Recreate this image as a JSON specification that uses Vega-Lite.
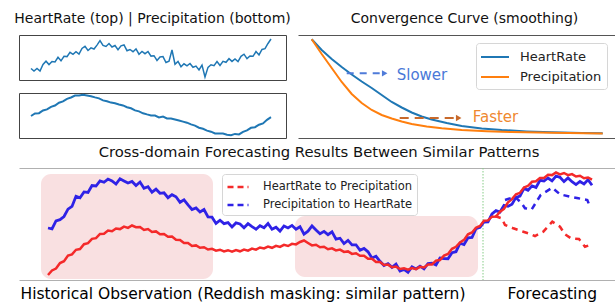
{
"$schema": "https://vega.github.io/schema/vega-lite/v6.json",
"padding": {"left": 13, "top": 11, "right": 0, "bottom": 0},
"config": {"font": "DejaVu Sans", "view": {"stroke": null}},
"datasets": {
"hr": [{"t":12,"v":11.5},{"t":15,"v":9},{"t":18,"v":11.5},{"t":21,"v":9},{"t":24,"v":15.5},{"t":27,"v":18.8},{"t":30,"v":15.4},{"t":33,"v":18.5},{"t":36,"v":18.1},{"t":39,"v":22.7},{"t":42,"v":19.2},{"t":45,"v":23.7},{"t":48,"v":23.4},{"t":51,"v":27.7},{"t":54,"v":25.6},{"t":57,"v":28.3},{"t":60,"v":25.9},{"t":63,"v":31.5},{"t":66,"v":33.8},{"t":69,"v":29.5},{"t":72,"v":32.1},{"t":75,"v":31},{"t":78,"v":34.9},{"t":81,"v":39.3},{"t":84,"v":34.6},{"t":87,"v":33.5},{"t":90,"v":36.5},{"t":93,"v":33},{"t":96,"v":34.5},{"t":99,"v":30.3},{"t":102,"v":34.2},{"t":105,"v":35},{"t":108,"v":29.3},{"t":111,"v":30.5},{"t":114,"v":28.3},{"t":117,"v":31},{"t":120,"v":25.8},{"t":123,"v":28.5},{"t":126,"v":26.3},{"t":129,"v":28.5},{"t":132,"v":23.9},{"t":135,"v":24.3},{"t":138,"v":19.6},{"t":141,"v":23},{"t":144,"v":23.4},{"t":147,"v":17.5},{"t":150,"v":18.8},{"t":153,"v":30},{"t":156,"v":15.8},{"t":159,"v":18.5},{"t":162,"v":13.3},{"t":165,"v":16.2},{"t":168,"v":14.1},{"t":171,"v":16.5},{"t":174,"v":12.7},{"t":177,"v":13.9},{"t":180,"v":10.1},{"t":183,"v":14.9},{"t":186,"v":3},{"t":189,"v":12.6},{"t":192,"v":15.2},{"t":195,"v":14.3},{"t":198,"v":18.4},{"t":201,"v":14.5},{"t":204,"v":18.6},{"t":207,"v":17.7},{"t":210,"v":21.3},{"t":213,"v":18.6},{"t":216,"v":21},{"t":219,"v":18.4},{"t":222,"v":23.7},{"t":225,"v":25.8},{"t":228,"v":21.4},{"t":231,"v":24},{"t":234,"v":23.7},{"t":237,"v":28.4},{"t":240,"v":25.1},{"t":243,"v":30.5},{"t":246,"v":31.3},{"t":249,"v":36.5},{"t":252,"v":41}],
"pr": [{"t":12,"v":22},{"t":16,"v":24.5},{"t":20,"v":24.8},{"t":24,"v":27.5},{"t":28,"v":28.6},{"t":32,"v":31.2},{"t":36,"v":32.5},{"t":40,"v":35.3},{"t":44,"v":36.6},{"t":48,"v":39.2},{"t":52,"v":40.5},{"t":56,"v":42.4},{"t":60,"v":42.6},{"t":64,"v":43.2},{"t":68,"v":42.5},{"t":72,"v":41.8},{"t":76,"v":40.6},{"t":80,"v":39.6},{"t":84,"v":37.6},{"t":88,"v":36.8},{"t":92,"v":35.4},{"t":96,"v":34.8},{"t":100,"v":33.5},{"t":104,"v":32.6},{"t":108,"v":30.8},{"t":112,"v":29.7},{"t":116,"v":27.6},{"t":120,"v":26.6},{"t":124,"v":24.7},{"t":128,"v":23.6},{"t":132,"v":22.6},{"t":136,"v":22.5},{"t":140,"v":20.6},{"t":144,"v":21.4},{"t":148,"v":19.6},{"t":152,"v":19.4},{"t":156,"v":18.5},{"t":160,"v":17.5},{"t":164,"v":16.4},{"t":168,"v":15.3},{"t":172,"v":13.6},{"t":176,"v":12.4},{"t":180,"v":10.3},{"t":184,"v":9.2},{"t":188,"v":7.4},{"t":192,"v":6.3},{"t":196,"v":4.6},{"t":200,"v":4.5},{"t":204,"v":4.4},{"t":208,"v":3.2},{"t":212,"v":2.8},{"t":216,"v":4.1},{"t":220,"v":3.6},{"t":224,"v":6.2},{"t":228,"v":7.6},{"t":232,"v":10.2},{"t":236,"v":10.8},{"t":240,"v":13.3},{"t":244,"v":14.6},{"t":248,"v":18.2},{"t":252,"v":20.8}],
"conv": [{"s":"HeartRate","t":0,"v":98.7},{"s":"HeartRate","t":10,"v":88},{"s":"HeartRate","t":20,"v":79},{"s":"HeartRate","t":30,"v":71},{"s":"HeartRate","t":40,"v":63.5},{"s":"HeartRate","t":50,"v":56.5},{"s":"HeartRate","t":60,"v":50},{"s":"HeartRate","t":70,"v":43},{"s":"HeartRate","t":80,"v":36},{"s":"HeartRate","t":90,"v":30.5},{"s":"HeartRate","t":100,"v":25.5},{"s":"HeartRate","t":110,"v":21.5},{"s":"HeartRate","t":120,"v":18.5},{"s":"HeartRate","t":135,"v":15},{"s":"HeartRate","t":150,"v":12},{"s":"HeartRate","t":170,"v":9.6},{"s":"HeartRate","t":190,"v":8},{"s":"HeartRate","t":215,"v":6.6},{"s":"HeartRate","t":240,"v":5.7},{"s":"HeartRate","t":270,"v":5},{"s":"HeartRate","t":291,"v":4.7},
{"s":"Precipitation","t":0,"v":98.7},{"s":"Precipitation","t":10,"v":84},{"s":"Precipitation","t":20,"v":70},{"s":"Precipitation","t":30,"v":56},{"s":"Precipitation","t":40,"v":44},{"s":"Precipitation","t":50,"v":35},{"s":"Precipitation","t":60,"v":28},{"s":"Precipitation","t":70,"v":23},{"s":"Precipitation","t":80,"v":19.5},{"s":"Precipitation","t":90,"v":16.5},{"s":"Precipitation","t":100,"v":14},{"s":"Precipitation","t":115,"v":11.5},{"s":"Precipitation","t":130,"v":9.7},{"s":"Precipitation","t":150,"v":8},{"s":"Precipitation","t":175,"v":6.8},{"s":"Precipitation","t":200,"v":6},{"s":"Precipitation","t":240,"v":5.2},{"s":"Precipitation","t":291,"v":4.6}],
"notes": [{"label":"Slower","t":85,"v":63,"a1":35,"a2":69,"h":73,"av":64.7},{"label":"Faster","t":161,"v":21,"a1":88,"a2":143,"h":147,"av":20}],
"mask": [{"x1":21,"x2":193,"y1":1,"y2":106},{"x1":275,"x2":458,"y1":3,"y2":64}],
"split": [{"t":463}],
"red": [{"t":28,"v":5},{"t":32,"v":9.5},{"t":36,"v":11.5},{"t":40,"v":17},{"t":44,"v":18.8},{"t":48,"v":24.5},{"t":52,"v":25.6},{"t":56,"v":30.2},{"t":60,"v":31},{"t":64,"v":35.8},{"t":68,"v":36.9},{"t":72,"v":41.2},{"t":76,"v":41.8},{"t":80,"v":46},{"t":84,"v":46.2},{"t":88,"v":49.4},{"t":92,"v":48.7},{"t":96,"v":51.5},{"t":100,"v":50.9},{"t":104,"v":53.4},{"t":108,"v":52.1},{"t":112,"v":54.5},{"t":116,"v":52.8},{"t":120,"v":53},{"t":124,"v":50},{"t":128,"v":51},{"t":132,"v":48},{"t":136,"v":48.6},{"t":140,"v":45.8},{"t":144,"v":46},{"t":148,"v":43.2},{"t":152,"v":43.5},{"t":156,"v":40.2},{"t":160,"v":40},{"t":164,"v":36.9},{"t":168,"v":37},{"t":172,"v":34},{"t":176,"v":34.6},{"t":180,"v":32.2},{"t":184,"v":32.8},{"t":188,"v":30.5},{"t":192,"v":31.2},{"t":196,"v":29.4},{"t":200,"v":30.3},{"t":204,"v":28.5},{"t":208,"v":29.8},{"t":212,"v":28.3},{"t":216,"v":30},{"t":220,"v":28.7},{"t":224,"v":30.4},{"t":228,"v":29.3},{"t":232,"v":31.4},{"t":236,"v":30.3},{"t":240,"v":32.5},{"t":244,"v":31.6},{"t":248,"v":33.4},{"t":252,"v":32.2},{"t":256,"v":34.2},{"t":260,"v":33.1},{"t":264,"v":35.2},{"t":268,"v":34},{"t":272,"v":36.2},{"t":276,"v":35.6},{"t":280,"v":38},{"t":284,"v":39.5},{"t":288,"v":37},{"t":292,"v":34.6},{"t":296,"v":35.2},{"t":300,"v":32.8},{"t":304,"v":33.3},{"t":308,"v":30.8},{"t":312,"v":31.7},{"t":316,"v":29.6},{"t":320,"v":30.4},{"t":324,"v":28.1},{"t":328,"v":28.6},{"t":332,"v":26.1},{"t":336,"v":26.7},{"t":340,"v":24.2},{"t":344,"v":24.2},{"t":348,"v":21.2},{"t":352,"v":21.3},{"t":356,"v":18},{"t":360,"v":18},{"t":364,"v":15},{"t":368,"v":15.4},{"t":372,"v":12.8},{"t":376,"v":13.4},{"t":380,"v":11},{"t":384,"v":11.8},{"t":388,"v":10.3},{"t":392,"v":12},{"t":396,"v":10.9},{"t":400,"v":13.2},{"t":404,"v":12.6},{"t":408,"v":15.6},{"t":412,"v":15.6},{"t":416,"v":19.4},{"t":420,"v":20},{"t":424,"v":24.4},{"t":428,"v":26},{"t":432,"v":31.2},{"t":436,"v":33.2},{"t":440,"v":37.6},{"t":444,"v":40.1},{"t":448,"v":45.7},{"t":452,"v":47.5},{"t":456,"v":52.3},{"t":460,"v":54.1},{"t":464,"v":59.2},{"t":468,"v":59.6},{"t":472,"v":63.3},{"t":476,"v":63.4},{"t":480,"v":68.2},{"t":484,"v":71},{"t":488,"v":77.6},{"t":492,"v":80.9},{"t":496,"v":85.7},{"t":500,"v":87.2},{"t":504,"v":92.4},{"t":508,"v":94.2},{"t":512,"v":98.2},{"t":516,"v":98.7},{"t":520,"v":102},{"t":524,"v":102.1},{"t":528,"v":105.2},{"t":532,"v":104.9},{"t":536,"v":107.5},{"t":540,"v":105.6},{"t":544,"v":107},{"t":548,"v":104.8},{"t":552,"v":105.9},{"t":556,"v":103.5},{"t":560,"v":104.3},{"t":564,"v":101.8},{"t":568,"v":102.5},{"t":572,"v":100.3}],
"blue": [{"t":28,"v":52},{"t":32,"v":51.2},{"t":36,"v":59.1},{"t":40,"v":60.3},{"t":44,"v":63.5},{"t":48,"v":70.8},{"t":52,"v":73.6},{"t":56,"v":83.8},{"t":60,"v":82.3},{"t":64,"v":88.1},{"t":68,"v":87.5},{"t":72,"v":94.5},{"t":76,"v":94},{"t":80,"v":99},{"t":84,"v":97.7},{"t":88,"v":100.9},{"t":92,"v":99},{"t":96,"v":95.9},{"t":100,"v":101.3},{"t":104,"v":99.1},{"t":108,"v":97},{"t":112,"v":98.5},{"t":116,"v":94.5},{"t":120,"v":98},{"t":124,"v":91.8},{"t":128,"v":93.3},{"t":132,"v":87.8},{"t":136,"v":90.8},{"t":140,"v":86.7},{"t":144,"v":87.2},{"t":148,"v":82.3},{"t":152,"v":85.3},{"t":156,"v":83.2},{"t":160,"v":77.7},{"t":164,"v":80.2},{"t":168,"v":75.1},{"t":172,"v":70.5},{"t":176,"v":72},{"t":180,"v":68},{"t":184,"v":70.5},{"t":188,"v":63},{"t":192,"v":62.8},{"t":196,"v":56.6},{"t":200,"v":59.8},{"t":204,"v":56.4},{"t":208,"v":57.4},{"t":212,"v":53},{"t":216,"v":57.1},{"t":220,"v":56.1},{"t":224,"v":52.2},{"t":228,"v":56.3},{"t":232,"v":53.3},{"t":236,"v":50.8},{"t":240,"v":54.3},{"t":244,"v":52.3},{"t":248,"v":56.5},{"t":252,"v":50.7},{"t":256,"v":52.8},{"t":260,"v":48.9},{"t":264,"v":54},{"t":268,"v":52.1},{"t":272,"v":54.6},{"t":276,"v":50.8},{"t":280,"v":53.3},{"t":284,"v":45.8},{"t":288,"v":48.8},{"t":292,"v":54.1},{"t":296,"v":50},{"t":300,"v":46.3},{"t":304,"v":48.6},{"t":308,"v":45.3},{"t":312,"v":48.1},{"t":316,"v":40.9},{"t":320,"v":41.8},{"t":324,"v":36.5},{"t":328,"v":39.6},{"t":332,"v":35.1},{"t":336,"v":35.2},{"t":340,"v":29.7},{"t":344,"v":31.5},{"t":348,"v":28.2},{"t":352,"v":21.9},{"t":356,"v":23.7},{"t":360,"v":18.7},{"t":364,"v":14.5},{"t":368,"v":16.4},{"t":372,"v":12.7},{"t":376,"v":15.8},{"t":380,"v":9},{"t":384,"v":10.6},{"t":388,"v":7.6},{"t":392,"v":13.1},{"t":396,"v":11.1},{"t":400,"v":13.8},{"t":404,"v":11.1},{"t":408,"v":16.5},{"t":412,"v":16.8},{"t":416,"v":15.1},{"t":420,"v":22},{"t":424,"v":21.5},{"t":428,"v":21.3},{"t":432,"v":27.3},{"t":436,"v":28.3},{"t":440,"v":36.8},{"t":444,"v":35.5},{"t":448,"v":42.2},{"t":452,"v":42.5},{"t":456,"v":51.3},{"t":460,"v":52.6},{"t":464,"v":58},{"t":468,"v":58.1},{"t":472,"v":66.1},{"t":476,"v":69.4},{"t":480,"v":68},{"t":484,"v":74.6},{"t":488,"v":73.7},{"t":492,"v":75.8},{"t":496,"v":82.6},{"t":500,"v":83.8},{"t":504,"v":91.6},{"t":508,"v":89.7},{"t":512,"v":94.1},{"t":516,"v":92.6},{"t":520,"v":99.6},{"t":524,"v":99},{"t":528,"v":102},{"t":532,"v":99.2},{"t":536,"v":104},{"t":540,"v":102.7},{"t":544,"v":98.4},{"t":548,"v":102},{"t":552,"v":98.3},{"t":556,"v":95.4},{"t":560,"v":98.5},{"t":564,"v":96.1},{"t":568,"v":100.3},{"t":572,"v":94.7}],
"fc": [{"s":"HeartRate to Precipitation","t":475,"v":64},{"s":"HeartRate to Precipitation","t":481.7,"v":61.7},{"s":"HeartRate to Precipitation","t":485,"v":55},{"s":"HeartRate to Precipitation","t":493.3,"v":51.7},{"s":"HeartRate to Precipitation","t":503.3,"v":48.3},{"s":"HeartRate to Precipitation","t":509,"v":46.5},{"s":"HeartRate to Precipitation","t":515,"v":44},{"s":"HeartRate to Precipitation","t":523.3,"v":48.3},{"s":"HeartRate to Precipitation","t":532.3,"v":58.3},{"s":"HeartRate to Precipitation","t":540,"v":53.3},{"s":"HeartRate to Precipitation","t":545,"v":45.7},{"s":"HeartRate to Precipitation","t":551,"v":41.7},{"s":"HeartRate to Precipitation","t":559,"v":41},{"s":"HeartRate to Precipitation","t":565,"v":33.3},{"s":"HeartRate to Precipitation","t":570,"v":35},
{"s":"Precipitation to HeartRate","t":485,"v":80},{"s":"Precipitation to HeartRate","t":495,"v":83.3},{"s":"Precipitation to HeartRate","t":501.7,"v":76.7},{"s":"Precipitation to HeartRate","t":505,"v":71.7},{"s":"Precipitation to HeartRate","t":511.7,"v":70.7},{"s":"Precipitation to HeartRate","t":520.7,"v":85},{"s":"Precipitation to HeartRate","t":532.3,"v":92.3},{"s":"Precipitation to HeartRate","t":540,"v":85.7},{"s":"Precipitation to HeartRate","t":550,"v":83.3},{"s":"Precipitation to HeartRate","t":558.3,"v":81.7},{"s":"Precipitation to HeartRate","t":567.3,"v":80},{"s":"Precipitation to HeartRate","t":570,"v":73.3}]
},
"vconcat": [
 {"hconcat": [
   {"vconcat": [
     {"width": 267, "height": 45,
      "title": {"text": "HeartRate (top) | Precipitation (bottom)", "font": "DejaVu Sans", "fontSize": 14, "fontWeight": "normal", "color": "#111", "baseline": "alphabetic", "offset": -2, "anchor": "middle"},
      "view": {"stroke": "#444", "strokeWidth": 1},
      "data": {"name": "hr"},
      "mark": {"type": "line", "color": "#1f77b4", "strokeWidth": 1.5},
      "encoding": {
        "x": {"field": "t", "type": "quantitative", "scale": {"domain": [0, 267], "nice": false, "zero": false}, "axis": null},
        "y": {"field": "v", "type": "quantitative", "scale": {"domain": [0, 45], "nice": false, "zero": false}, "axis": null}}},
     {"width": 267, "height": 45,
      "view": {"stroke": "#444", "strokeWidth": 1},
      "data": {"name": "pr"},
      "mark": {"type": "line", "color": "#1f77b4", "strokeWidth": 2},
      "encoding": {
        "x": {"field": "t", "type": "quantitative", "scale": {"domain": [0, 267], "nice": false, "zero": false}, "axis": null},
        "y": {"field": "v", "type": "quantitative", "scale": {"domain": [0, 45], "nice": false, "zero": false}, "axis": null}}}
   ], "spacing": 9},
   {"width": 317, "height": 103,
    "title": {"text": "Convergence Curve (smoothing)", "font": "DejaVu Sans", "fontSize": 14, "fontWeight": "normal", "color": "#111", "baseline": "alphabetic", "offset": -2, "anchor": "middle", "dx": 8},
    "resolve": {"axis": {"x": "independent"}},
    "layer": [
      {"data": {"name": "conv"},
       "mark": {"type": "line", "strokeWidth": 2},
       "encoding": {
         "x": {"field": "t", "type": "quantitative", "scale": {"domain": [-13.7, 303.3], "nice": false, "zero": false},
           "axis": {"orient": "bottom", "domain": true, "domainColor": "#555", "domainWidth": 1, "labels": false, "ticks": false, "grid": false, "title": null}},
         "y": {"field": "v", "type": "quantitative", "scale": {"domain": [0, 103], "nice": false, "zero": false},
           "axis": {"orient": "left", "domain": true, "domainColor": "#555", "domainWidth": 1, "labels": false, "ticks": false, "grid": false, "title": null}},
         "color": {"field": "s", "type": "nominal", "scale": {"domain": ["HeartRate", "Precipitation"], "range": ["#1f77b4", "#ff7f0e"]},
           "legend": {"orient": "none", "legendX": 178, "legendY": 8, "title": null, "symbolType": "M-1.75,0L1.75,0", "symbolSize": 256, "symbolStrokeWidth": 2, "symbolOffset": 5, "labelFont": "DejaVu Sans", "labelFontSize": 13, "labelColor": "#222", "labelOffset": 16, "fillColor": "white", "strokeColor": "#d6d6d6", "cornerRadius": 3, "padding": 5, "rowPadding": 4}}}},
      {"data": {"name": "notes"}, "transform": [{"filter": "datum.label == 'Slower'"}],
       "mark": {"type": "rule", "color": "#4f7bd9", "strokeWidth": 2, "strokeDash": [7, 6]},
       "encoding": {
         "x": {"field": "a1", "type": "quantitative", "scale": {"domain": [-13.7, 303.3], "nice": false, "zero": false},
           "axis": {"orient": "top", "domain": true, "domainColor": "#555", "domainWidth": 1, "labels": false, "ticks": false, "grid": false, "title": null}},
         "x2": {"field": "a2"},
         "y": {"field": "av", "type": "quantitative", "scale": {"domain": [0, 103], "nice": false, "zero": false}, "axis": null}}},
      {"data": {"name": "notes"}, "transform": [{"filter": "datum.label == 'Faster'"}],
       "mark": {"type": "rule", "color": "#c8692b", "strokeWidth": 2, "strokeDash": [9, 6]},
       "encoding": {
         "x": {"field": "a1", "type": "quantitative", "scale": {"domain": [-13.7, 303.3], "nice": false, "zero": false}, "axis": null},
         "x2": {"field": "a2"},
         "y": {"field": "av", "type": "quantitative", "scale": {"domain": [0, 103], "nice": false, "zero": false}, "axis": null}}},
      {"data": {"name": "notes"}, "transform": [{"filter": "datum.label == 'Slower'"}],
       "mark": {"type": "point", "shape": "triangle-right", "filled": true, "size": 40, "color": "#4f7bd9", "opacity": 1},
       "encoding": {
         "x": {"field": "h", "type": "quantitative", "scale": {"domain": [-13.7, 303.3], "nice": false, "zero": false}, "axis": null},
         "y": {"field": "av", "type": "quantitative", "scale": {"domain": [0, 103], "nice": false, "zero": false}, "axis": null}}},
      {"data": {"name": "notes"}, "transform": [{"filter": "datum.label == 'Faster'"}],
       "mark": {"type": "point", "shape": "triangle-right", "filled": true, "size": 40, "color": "#c8692b", "opacity": 1},
       "encoding": {
         "x": {"field": "h", "type": "quantitative", "scale": {"domain": [-13.7, 303.3], "nice": false, "zero": false}, "axis": null},
         "y": {"field": "av", "type": "quantitative", "scale": {"domain": [0, 103], "nice": false, "zero": false}, "axis": null}}},
      {"data": {"name": "notes"}, "transform": [{"filter": "datum.label == 'Slower'"}],
       "mark": {"type": "text", "align": "left", "baseline": "middle", "font": "DejaVu Sans", "fontSize": 15, "color": "#4a78d8"},
       "encoding": {
         "x": {"field": "t", "type": "quantitative", "scale": {"domain": [-13.7, 303.3], "nice": false, "zero": false}, "axis": null},
         "y": {"field": "v", "type": "quantitative", "scale": {"domain": [0, 103], "nice": false, "zero": false}, "axis": null},
         "text": {"field": "label"}}},
      {"data": {"name": "notes"}, "transform": [{"filter": "datum.label == 'Faster'"}],
       "mark": {"type": "text", "align": "left", "baseline": "middle", "font": "DejaVu Sans", "fontSize": 15, "color": "#ef8830"},
       "encoding": {
         "x": {"field": "t", "type": "quantitative", "scale": {"domain": [-13.7, 303.3], "nice": false, "zero": false}, "axis": null},
         "y": {"field": "v", "type": "quantitative", "scale": {"domain": [0, 103], "nice": false, "zero": false}, "axis": null},
         "text": {"field": "label"}}}
    ]}
 ], "spacing": 6, "resolve": {"scale": {"color": "independent"}, "legend": {"color": "independent"}}},
 {"width": 596, "height": 112,
  "title": {"text": "Cross-domain Forecasting Results Between Similar Patterns", "font": "DejaVu Sans", "fontSize": 14.8, "fontWeight": "normal", "color": "#111", "baseline": "alphabetic", "offset": -4, "anchor": "middle", "dx": 2},
  "resolve": {"axis": {"x": "independent"}},
  "layer": [
    {"data": {"name": "mask"},
     "mark": {"type": "rect", "color": "#f9e0e1", "cornerRadius": 10, "opacity": 1},
     "encoding": {
       "x": {"field": "x1", "type": "quantitative", "scale": {"domain": [-1, 595], "nice": false, "zero": false},
         "axis": {"orient": "bottom", "values": [0, 487], "labelExpr": "datum.value < 100 ? 'Historical Observation (Reddish masking: similar pattern)' : 'Forecasting'", "labelAlign": "left", "ticks": false, "domain": true, "domainColor": "#b0b0b0", "domainWidth": 1, "grid": false, "title": null, "labelFont": "DejaVu Sans", "labelFontSize": 15.5, "labelColor": "#000", "labelPadding": 6, "labelOverlap": false, "labelBound": false, "labelFlush": false, "labelLimit": 0}},
       "x2": {"field": "x2"},
       "y": {"field": "y1", "type": "quantitative", "scale": {"domain": [0, 112], "nice": false, "zero": false},
         "axis": {"orient": "left", "labels": false, "ticks": false, "domain": true, "domainColor": "#b0b0b0", "domainWidth": 1, "grid": false, "title": null, "minExtent": 6, "maxExtent": 6}},
       "y2": {"field": "y2"}}},
    {"data": {"name": "split"},
     "mark": {"type": "rule", "color": "#86cc86", "strokeWidth": 1, "strokeDash": [1.5, 1.5]},
     "encoding": {
       "x": {"field": "t", "type": "quantitative", "scale": {"domain": [-1, 595], "nice": false, "zero": false},
         "axis": {"orient": "top", "domain": true, "domainColor": "#b0b0b0", "domainWidth": 1, "labels": false, "ticks": false, "grid": false, "title": null}}}},
    {"data": {"name": "blue"},
     "mark": {"type": "line", "color": "#2f22e6", "strokeWidth": 2.8},
     "encoding": {
       "x": {"field": "t", "type": "quantitative", "scale": {"domain": [-1, 595], "nice": false, "zero": false}, "axis": null},
       "y": {"field": "v", "type": "quantitative", "scale": {"domain": [0, 112], "nice": false, "zero": false}, "axis": null}}},
    {"data": {"name": "red"},
     "mark": {"type": "line", "color": "#f42a2a", "strokeWidth": 2.5},
     "encoding": {
       "x": {"field": "t", "type": "quantitative", "scale": {"domain": [-1, 595], "nice": false, "zero": false}, "axis": null},
       "y": {"field": "v", "type": "quantitative", "scale": {"domain": [0, 112], "nice": false, "zero": false}, "axis": null}}},
    {"data": {"name": "fc"},
     "mark": {"type": "line", "strokeWidth": 2.5, "strokeDash": [6, 5]},
     "encoding": {
       "x": {"field": "t", "type": "quantitative", "scale": {"domain": [-1, 595], "nice": false, "zero": false}, "axis": null},
       "y": {"field": "v", "type": "quantitative", "scale": {"domain": [0, 112], "nice": false, "zero": false}, "axis": null},
       "stroke": {"field": "s", "type": "nominal", "scale": {"domain": ["HeartRate to Precipitation", "Precipitation to HeartRate"], "range": ["#f42a2a", "#2f22e6"]},
         "legend": {"orient": "none", "legendX": 203, "legendY": 6, "title": null, "symbolType": "M-1.4,0L1.4,0", "symbolSize": 225, "symbolStrokeWidth": 2.5, "symbolDash": [6, 4], "symbolOffset": 3, "labelFont": "DejaVu Sans", "labelFontSize": 11.5, "labelColor": "#222", "labelOffset": 16, "fillColor": "white", "strokeColor": "#d6d6d6", "cornerRadius": 3, "padding": 4, "rowPadding": 3}}}}
  ]}
],
"spacing": 4,
"resolve": {"scale": {"color": "independent", "stroke": "independent"}, "legend": {"color": "independent", "stroke": "independent"}}
}
